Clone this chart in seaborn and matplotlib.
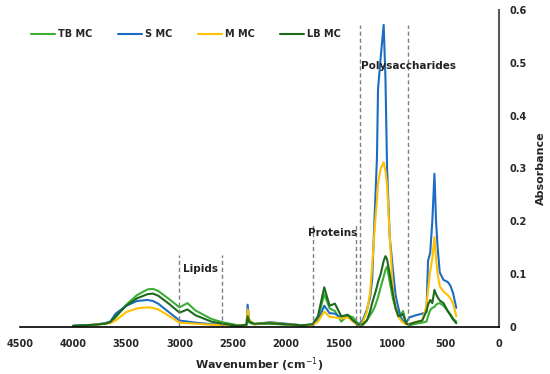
import pandas as pd
import seaborn as sns
import matplotlib.pyplot as plt

# FTIR spectra (wavenumber in cm-1, absorbance)
wavenumber = [4000, 3900, 3800, 3700, 3650, 3600, 3500, 3400, 3300, 3250, 3200, 3100, 3000, 2925, 2850, 2700, 2600,
              2450, 2370, 2360, 2345, 2300, 2150, 2000, 1850,
              1750, 1700, 1640, 1590, 1540, 1480, 1420, 1370, 1320,
              1280, 1240, 1210, 1190, 1165, 1145, 1135, 1110, 1082, 1065, 1050, 1025, 995, 970, 945, 920, 900, 870,
              840, 780, 720, 680, 665, 645, 625, 605, 590, 575, 555, 520, 480, 455, 430, 400]

tb_mc = [0.002, 0.003, 0.004, 0.006, 0.008, 0.018, 0.042, 0.060, 0.071, 0.072, 0.068, 0.053, 0.037, 0.045, 0.031, 0.015, 0.009,
         0.003, 0.004, 0.014, 0.008, 0.005, 0.006, 0.004, 0.003,
         0.004, 0.015, 0.062, 0.035, 0.030, 0.010, 0.022, 0.018, 0.006,
         0.003, 0.012, 0.022, 0.028, 0.038, 0.050, 0.056, 0.075, 0.095, 0.108, 0.114, 0.085, 0.053, 0.036, 0.028, 0.022, 0.030, 0.006,
         0.003, 0.006, 0.008, 0.010, 0.020, 0.032, 0.036, 0.038, 0.042, 0.044, 0.045, 0.040, 0.030, 0.024, 0.016, 0.010]

s_mc = [0.002, 0.003, 0.004, 0.007, 0.010, 0.025, 0.040, 0.049, 0.051, 0.049, 0.044, 0.028, 0.012, 0.010, 0.008, 0.005, 0.004,
        0.002, 0.004, 0.042, 0.012, 0.005, 0.009, 0.006, 0.003,
        0.004, 0.012, 0.040, 0.026, 0.025, 0.017, 0.020, 0.012, 0.004,
        0.012, 0.032, 0.055, 0.090, 0.220, 0.320, 0.450, 0.510, 0.572, 0.470, 0.300, 0.170, 0.108, 0.060, 0.037, 0.018, 0.011, 0.008,
        0.018, 0.022, 0.025, 0.028, 0.125, 0.140, 0.200, 0.290, 0.200, 0.150, 0.103, 0.089, 0.085, 0.078, 0.064, 0.036]

m_mc = [0.001, 0.002, 0.004, 0.006, 0.007, 0.012, 0.028, 0.035, 0.037, 0.036, 0.033, 0.021, 0.008, 0.007, 0.006, 0.004, 0.003,
        0.002, 0.004, 0.033, 0.014, 0.005, 0.008, 0.005, 0.003,
        0.003, 0.010, 0.029, 0.019, 0.018, 0.016, 0.018, 0.010, 0.003,
        0.008, 0.028, 0.064, 0.115, 0.190, 0.240, 0.272, 0.300, 0.312, 0.295, 0.270, 0.170, 0.070, 0.035, 0.020, 0.012, 0.008, 0.005,
        0.006, 0.009, 0.012, 0.040, 0.070, 0.105, 0.130, 0.170, 0.130, 0.100, 0.077, 0.067, 0.060, 0.054, 0.045, 0.020]

lb_mc = [0.002, 0.003, 0.004, 0.006, 0.009, 0.020, 0.040, 0.054, 0.062, 0.063, 0.059, 0.044, 0.027, 0.033, 0.022, 0.010, 0.006,
         0.002, 0.004, 0.020, 0.010, 0.006, 0.007, 0.005, 0.003,
         0.005, 0.020, 0.075, 0.040, 0.044, 0.020, 0.023, 0.012, 0.004,
         0.005, 0.012, 0.029, 0.045, 0.062, 0.076, 0.085, 0.100, 0.125, 0.134, 0.128, 0.100, 0.062, 0.035, 0.020, 0.022, 0.024, 0.006,
         0.005, 0.009, 0.012, 0.030, 0.042, 0.051, 0.045, 0.070, 0.062, 0.056, 0.050, 0.045, 0.030, 0.022, 0.014, 0.007]

series_names = ["TB MC", "S MC", "M MC", "LB MC"]
series_colors = ["#3cae35", "#1c6cc4", "#ffc000", "#1d6a1d"]

# band regions: label, dashed line positions, line top, label position
band_labels = ["Lipids", "Proteins", "Polysaccharides"]
band_lines = [(3000, 2600), (1750, 1340), (1300, 850)]
band_tops = [0.136, 0.193, 0.572]
band_text_xy = [(2800, 0.110), (1560, 0.178), (1295, 0.495)]

df = pd.DataFrame({
    "Wavenumber": wavenumber * 4,
    "Absorbance": tb_mc + s_mc + m_mc + lb_mc,
    "Sample": sum([[n] * len(wavenumber) for n in series_names], []),
})

sns.set_style("white")
plt.rcParams['font.family'] = ['DejaVu Sans']

fig = plt.figure(figsize=(5.5, 3.74), dpi=100)
ax = fig.add_axes([0.036, 0.126, 0.871, 0.847])

sns.lineplot(data=df, x="Wavenumber", y="Absorbance", hue="Sample",
             hue_order=series_names, palette=series_colors, linewidth=1.5,
             estimator=None, sort=False, ax=ax)

for (a, b), top in zip(band_lines, band_tops):
    ax.vlines([a, b], 0, top, colors="#808080", linestyles=(0, (3, 2)), linewidth=1)
for lab, (tx, ty) in zip(band_labels, band_text_xy):
    ha = "left" if lab == "Polysaccharides" else "center"
    ax.text(tx, ty, lab, ha=ha, va="center", fontsize=7.5, fontweight="bold", color="#222222")

ax.set_xlim(4500, 0)
ax.set_ylim(0, 0.6)
ax.set_xticks(range(4500, -1, -500))
ax.set_yticks([0, 0.1, 0.2, 0.3, 0.4, 0.5, 0.6])
ax.set_yticklabels(["0", "0.1", "0.2", "0.3", "0.4", "0.5", "0.6"])
ax.yaxis.tick_right()
ax.yaxis.set_label_position("right")
ax.tick_params(axis="x", length=0, labelsize=7, pad=9)
ax.tick_params(axis="y", length=0, labelsize=7, pad=8)
for lbl in ax.get_xticklabels() + ax.get_yticklabels():
    lbl.set_fontweight("bold")

ax.spines["top"].set_visible(False)
ax.spines["left"].set_visible(False)
ax.spines["bottom"].set_color("black")
ax.spines["bottom"].set_linewidth(1.2)
ax.spines["right"].set_color("#595959")
ax.spines["right"].set_linewidth(1.5)

ax.set_xlabel("Wavenumber (cm$^{-1}$)", fontsize=8, fontweight="bold", labelpad=4)
ax.set_ylabel("Absorbance", fontsize=8, fontweight="bold", labelpad=6)

leg = ax.legend(loc="upper left", bbox_to_anchor=(0.005, 0.967), ncol=4, frameon=False,
                fontsize=7, handlelength=2.5, columnspacing=2.6, handletextpad=0.3)
for t in leg.get_texts():
    t.set_fontweight("bold")

plt.savefig("out.png", dpi=100)
